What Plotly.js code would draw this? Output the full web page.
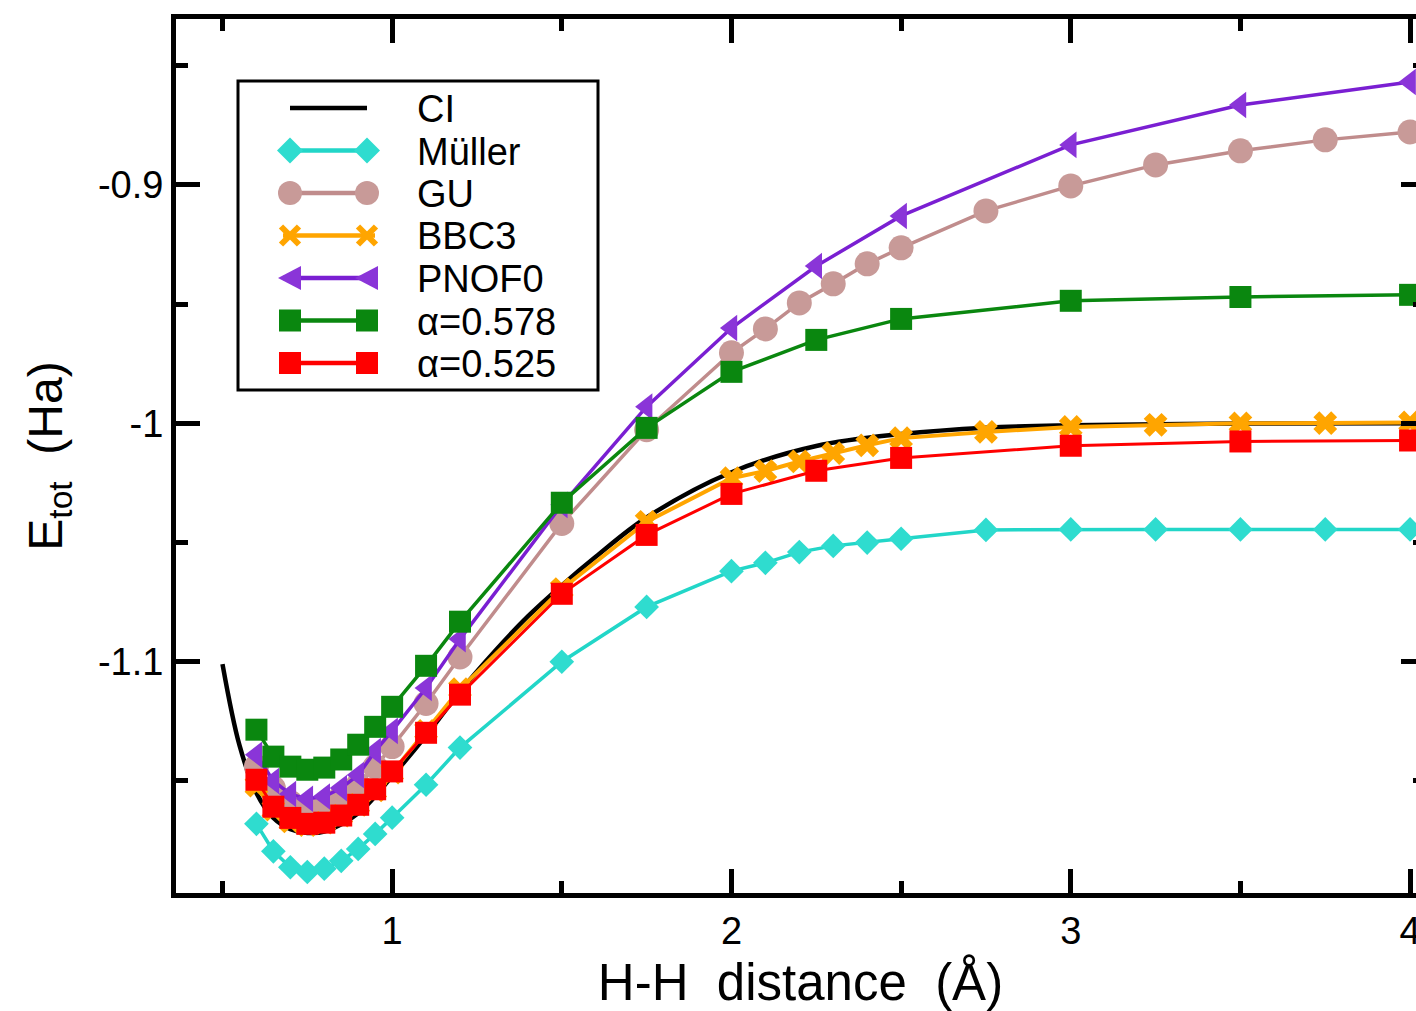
<!DOCTYPE html>
<html>
<head>
<meta charset="utf-8">
<script src="https://cdn.plot.ly/plotly-3.0.1.min.js"></script>
<style>
  html, body { margin: 0; padding: 0; overflow: hidden; background: #fff; }
  #chart { width: 1440px; height: 1011px; }
</style>
</head>
<body>
<div id="chart"></div>
<script>
// ---- data ----
const xCI = [0.5, 0.55, 0.6, 0.65, 0.7, 0.75, 0.8, 0.9, 1.0, 1.1, 1.2, 1.3, 1.4, 1.5, 1.6, 1.75, 2.0, 2.25, 2.5, 2.75, 3.0, 3.5, 4.0];
const eCI = [-1.101, -1.135, -1.155, -1.1655, -1.1702, -1.1718, -1.1712, -1.1635, -1.148, -1.131, -1.1125, -1.096, -1.081, -1.068, -1.056, -1.0395, -1.0205, -1.0095, -1.0045, -1.0018, -1.0008, -1.0001, -1.0000];

const xFine = [0.6, 0.65, 0.7, 0.75, 0.8, 0.85, 0.9, 0.95, 1.0, 1.1, 1.2, 1.5, 1.75, 2.0, 2.1, 2.2, 2.3, 2.4, 2.5, 2.75, 3.0, 3.25, 3.5, 3.75, 4.0];
const eMuller = [-1.168, -1.1795, -1.1862, -1.1882, -1.1868, -1.1835, -1.1785, -1.1722, -1.1654, -1.1516, -1.136, -1.100, -1.077, -1.062, -1.0585, -1.054, -1.0514, -1.050, -1.0484, -1.0447, -1.0445, -1.0445, -1.0445, -1.0445, -1.0445];
const eGU = [-1.144, -1.153, -1.159, -1.161, -1.160, -1.1566, -1.1516, -1.144, -1.1356, -1.1175, -1.098, -1.042, -1.0027, -0.9704, -0.9604, -0.9495, -0.9415, -0.9331, -0.9264, -0.9109, -0.9004, -0.8916, -0.8857, -0.8811, -0.8778];
const eBBC3 = [-1.152, -1.162, -1.167, -1.1685, -1.1675, -1.1645, -1.160, -1.154, -1.1465, -1.129, -1.1115, -1.0695, -1.0413, -1.0230, -1.0200, -1.0160, -1.0125, -1.0092, -1.0062, -1.0036, -1.0015, -1.0006, -1.0000, -0.9999, -0.9996];

const xCoarse = [0.6, 0.65, 0.7, 0.75, 0.8, 0.85, 0.9, 0.95, 1.0, 1.1, 1.2, 1.5, 1.75, 2.0, 2.25, 2.5, 3.0, 3.5, 4.0];
const ePNOF0 = [-1.139, -1.150, -1.1555, -1.1575, -1.1565, -1.153, -1.1475, -1.1375, -1.129, -1.111, -1.0905, -1.0342, -0.993, -0.960, -0.934, -0.913, -0.8832, -0.8665, -0.8568];
const eA578 = [-1.1285, -1.1398, -1.144, -1.1453, -1.1444, -1.141, -1.1348, -1.1273, -1.1189, -1.1017, -1.0832, -1.0333, -1.0019, -0.9784, -0.965, -0.9562, -0.9486, -0.947, -0.9461];
const eA525 = [-1.1495, -1.1608, -1.1655, -1.168, -1.1675, -1.1645, -1.160, -1.1535, -1.146, -1.1298, -1.1138, -1.0715, -1.0468, -1.0296, -1.0199, -1.0145, -1.0094, -1.0076, -1.0072];

const seriesNames = ['CI', 'Müller', 'GU', 'BBC3', 'PNOF0', 'α=0.578', 'α=0.525'];

const xTickVals = [1, 2, 3, 4];
const xTickText = ['1', '2', '3', '4'];
const xMinorVals = [0.5, 1.5, 2.5, 3.5];
const yTickVals = [-1.1, -1.0, -0.9];
const yTickText = ['-1.1', '-1', '-0.9'];
const yMinorVals = [-1.15, -1.05, -0.95, -0.85];

// ---- styles ----
const styles = [
  { mode: 'lines', line: { color: '#000000', width: 4.5, shape: 'spline' }, sym: null },
  { mode: 'lines+markers', line: { color: '#22d6c8', width: 3.5 }, marker: { symbol: 'diamond', size: 19, color: '#2fdccf' }, sym: 'diamond' },
  { mode: 'lines+markers', line: { color: '#c08c8c', width: 3.5 }, marker: { symbol: 'circle', size: 25, color: '#c89a98' }, sym: 'circle' },
  { mode: 'lines+markers', line: { color: '#ffa500', width: 4 }, marker: { symbol: 'x', size: 21, color: '#ffa500' }, sym: 'x' },
  { mode: 'lines+markers', line: { color: '#7a1fd2', width: 3.5 }, marker: { symbol: 'triangle-left', size: 23, color: '#8a35d8' }, sym: 'triangle-left' },
  { mode: 'lines+markers', line: { color: '#0a870f', width: 3.5 }, marker: { symbol: 'square', size: 22, color: '#0a870f' }, sym: 'square' },
  { mode: 'lines+markers', line: { color: '#ff0000', width: 3 }, marker: { symbol: 'square', size: 22, color: '#ff0000' }, sym: 'square' }
];
const xs = [xCI, xFine, xFine, xFine, xCoarse, xCoarse, xCoarse];
const ys = [eCI, eMuller, eGU, eBBC3, ePNOF0, eA578, eA525];

const traces = ys.map((y, i) => {
  const t = { x: xs[i], y: y, name: seriesNames[i], mode: styles[i].mode, line: styles[i].line, showlegend: false };
  if (styles[i].marker) t.marker = styles[i].marker;
  return t;
});

// ---- legend box built with shapes + annotations (pixel layout) ----
const PLOT = { l: 176, t: 19, w: 1249, h: 874 };
const px2x = p => (p - PLOT.l) / PLOT.w;
const py2y = p => 1 - (p - PLOT.t) / PLOT.h;
const LEG = { left: 238, right: 598, top: 81, bottom: 390, row0: 108, step: 42.5, lx0: 283, lx1: 375, m0: 290, m1: 367, tx: 415 };

const fontFam = 'Liberation Sans, Arial, Helvetica, sans-serif';
const shapes = [{
  type: 'rect', xref: 'paper', yref: 'paper', layer: 'above',
  x0: px2x(LEG.left), x1: px2x(LEG.right), y0: py2y(LEG.bottom), y1: py2y(LEG.top),
  line: { color: '#000000', width: 3 }, fillcolor: '#ffffff'
}];
const annotations = [];

function glyph(sym, color, cx, cy) {
  const base = { xref: 'paper', yref: 'paper', layer: 'above', xsizemode: 'pixel', ysizemode: 'pixel', xanchor: px2x(cx), yanchor: py2y(cy) };
  if (sym === 'square') return [Object.assign({}, base, { type: 'rect', x0: -11, x1: 11, y0: -11, y1: 11, fillcolor: color, line: { width: 0 } })];
  if (sym === 'circle') return [Object.assign({}, base, { type: 'circle', x0: -12, x1: 12, y0: -12, y1: 12, fillcolor: color, line: { width: 0 } })];
  if (sym === 'diamond') return [Object.assign({}, base, { type: 'path', path: 'M-13,0L0,13L13,0L0,-13Z', fillcolor: color, line: { width: 0 } })];
  if (sym === 'triangle-left') return [Object.assign({}, base, { type: 'path', path: 'M-12,0L11,-12L11,12Z', fillcolor: color, line: { width: 0 } })];
  if (sym === 'x') return [
    Object.assign({}, base, { type: 'line', x0: -9, x1: 9, y0: -9, y1: 9, line: { color: color, width: 6 } }),
    Object.assign({}, base, { type: 'line', x0: -9, x1: 9, y0: 9, y1: -9, line: { color: color, width: 6 } })
  ];
  return [];
}

seriesNames.forEach((name, i) => {
  const cy = LEG.row0 + i * LEG.step;
  const st = styles[i];
  const lineX0 = st.sym ? LEG.lx0 : LEG.m0;
  const lineX1 = st.sym ? LEG.lx1 : LEG.m1;
  shapes.push({
    type: 'line', xref: 'paper', yref: 'paper', layer: 'above',
    x0: px2x(lineX0), x1: px2x(lineX1), y0: py2y(cy), y1: py2y(cy),
    line: { color: st.line.color, width: 4.5 }
  });
  if (st.sym) {
    glyph(st.sym, st.marker.color, LEG.m0, cy).forEach(s => shapes.push(s));
    glyph(st.sym, st.marker.color, LEG.m1, cy).forEach(s => shapes.push(s));
  }
  annotations.push({
    xref: 'paper', yref: 'paper', x: px2x(LEG.tx), y: py2y(cy + 1), xanchor: 'left', yanchor: 'middle',
    text: name, showarrow: false, font: { family: fontFam, size: 38, color: '#000000' }
  });
});

const layout = {
  width: 1440,
  height: 1011,
  margin: { l: 176, r: 15, t: 19, b: 118 },
  paper_bgcolor: '#ffffff',
  plot_bgcolor: '#ffffff',
  font: { family: fontFam, color: '#000000' },
  showlegend: false,
  shapes: shapes,
  annotations: annotations,
  xaxis: {
    range: [0.363, 4.044],
    showline: true, linewidth: 5, linecolor: '#000000', mirror: 'ticks',
    ticks: 'inside', ticklen: 24, tickwidth: 5, tickcolor: '#000000',
    tickmode: 'array', tickvals: xTickVals, ticktext: xTickText,
    tickfont: { family: fontFam, size: 38, color: '#000000' },
    showgrid: false, zeroline: false,
    minor: { tickmode: 'array', tickvals: xMinorVals, ticks: 'inside', ticklen: 12, tickwidth: 5, tickcolor: '#000000', showgrid: false },
    title: { text: 'H-H\u00a0\u00a0distance\u00a0\u00a0(Å)', font: { family: fontFam, size: 51, color: '#000000' }, standoff: 16 }
  },
  yaxis: {
    range: [-1.197, -0.8304],
    showline: true, linewidth: 5, linecolor: '#000000', mirror: 'ticks',
    ticks: 'inside', ticklen: 24, tickwidth: 5, tickcolor: '#000000',
    tickmode: 'array', tickvals: yTickVals, ticktext: yTickText,
    tickfont: { family: fontFam, size: 38, color: '#000000' },
    showgrid: false, zeroline: false,
    minor: { tickmode: 'array', tickvals: yMinorVals, ticks: 'inside', ticklen: 12, tickwidth: 5, tickcolor: '#000000', showgrid: false },
    title: { text: 'E<sub>tot</sub>\u00a0\u00a0(Ha)', font: { family: fontFam, size: 48, color: '#000000' }, standoff: 22 }
  }
};

Plotly.newPlot('chart', traces, layout, { displayModeBar: false, staticPlot: true });
</script>
</body>
</html>
